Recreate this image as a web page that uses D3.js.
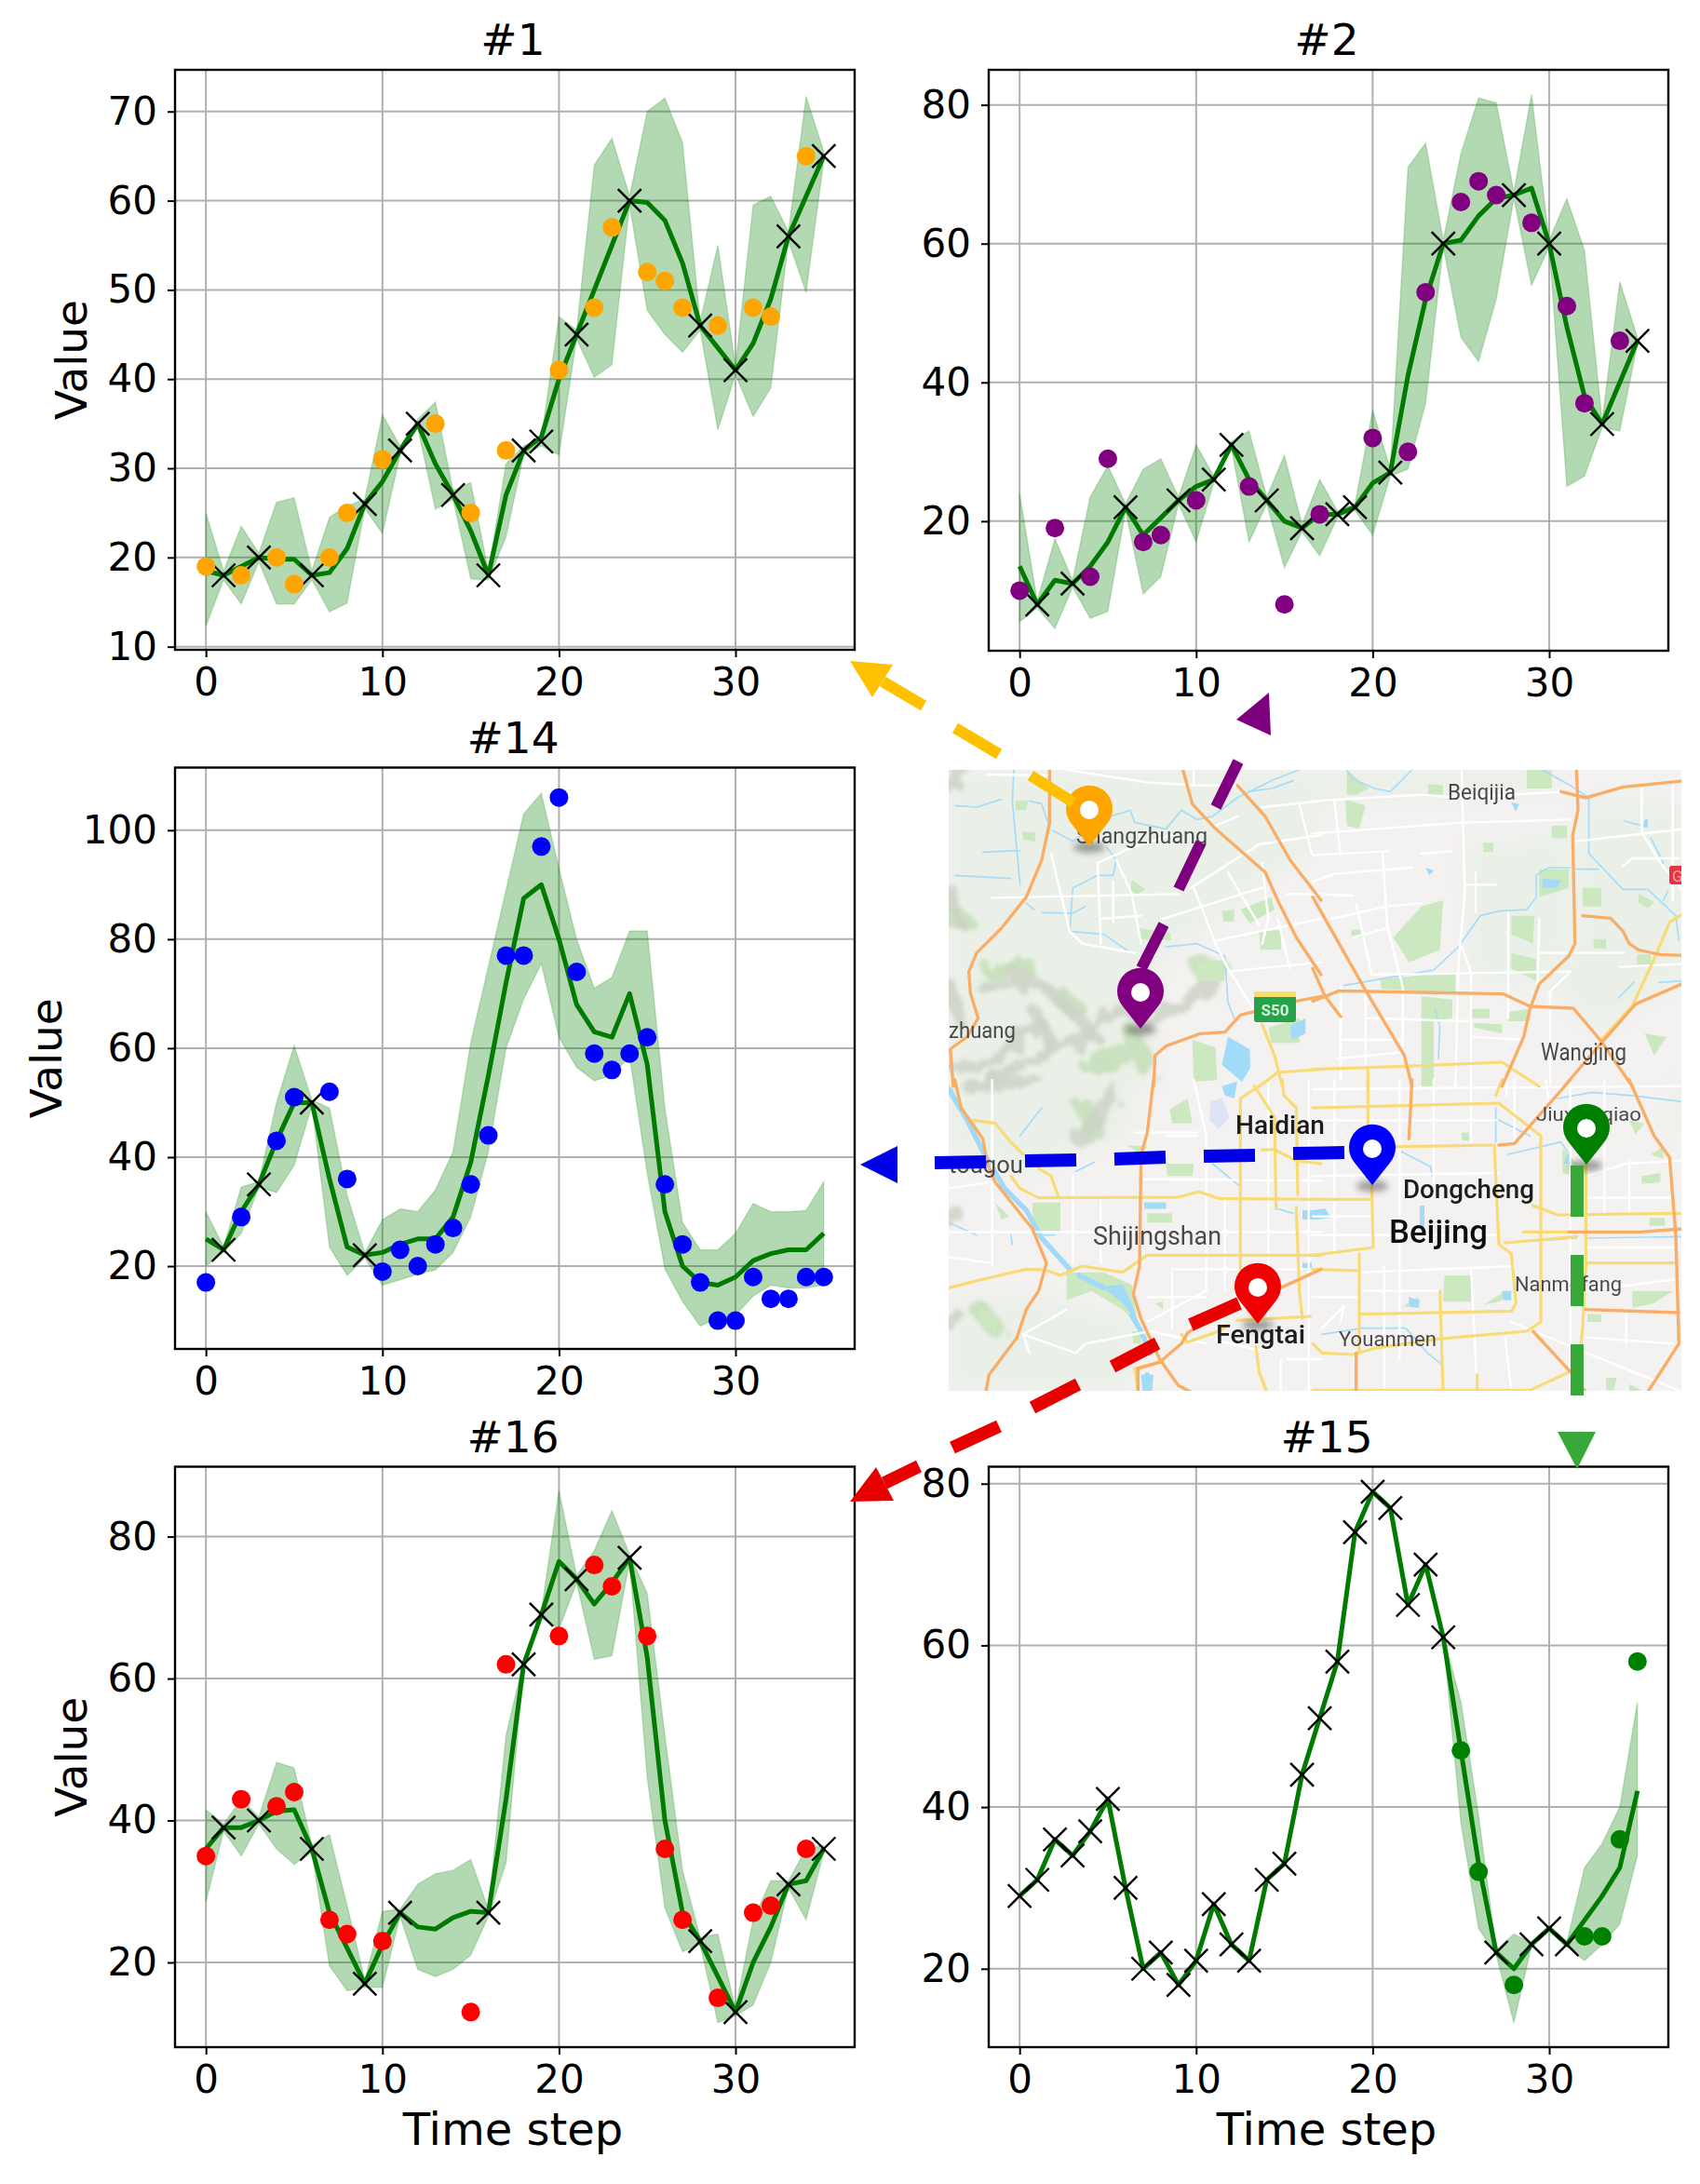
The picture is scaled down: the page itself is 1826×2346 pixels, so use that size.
<!DOCTYPE html>
<html><head><meta charset="utf-8">
<script src="https://cdnjs.cloudflare.com/ajax/libs/d3/7.8.5/d3.min.js"></script>
<style>html,body{margin:0;padding:0;background:#fff}svg{display:block}</style></head>
<body><svg id="c" width="1826" height="2346"></svg>
<script>
const tickX = [0,10,20,30];
// ---- #1
const s1Mean=[18.5,18,19,20,19.8,19.8,18,18.3,21,26,28.5,32,35,30.5,27,23,18,27,32,33.5,40,45,50,55,60,59.8,57.8,53,46,43.5,41,44,49,56,60.5,65];
const s1Upper=[25,18.5,23.5,20.5,26.2,26.7,18.5,24.5,25.8,26.5,36,32.5,35.5,37.4,27.5,28.4,18.5,30.5,32.5,33.5,47,45.5,64,67,60.5,70,71.5,66.5,46.5,55,41.5,59.5,60.5,56.5,71.7,65.5];
const s1Lower=[12.3,17.5,14.8,19.5,14.8,14.8,17.5,13.9,14.9,25.5,22.7,31.5,34.5,25.4,26.5,17.6,17.5,22.3,31.5,32.5,31.5,44.5,40.2,41.6,59.5,47.7,45,43,45.5,34.3,40.5,35.8,39,55.5,49.7,64.5];
const s1CrossX=[1,3,6,9,11,12,14,16,18,19,21,24,28,30,33,35];
const s1CrossY=[18,20,18,26,32,35,27,18,32,33,45,60,46,41,56,65];
const s1DotX=[0,2,4,5,7,8,10,13,15,17,20,22,23,25,26,27,29,31,32,34];
const s1DotY=[19,18,20,17,20,25,31,35,25,32,41,48,57,52,51,48,46,48,47,65];
// ---- #2
const s2Mean=[13.5,8,11.5,11,13.5,17,22,18,20.5,23,25,26,31,26,23,20,19,21,21,22,25.5,27,41,52,60,60.5,64,66.5,67,68,60,48,38,34,40,46];
const s2Upper=[24,8.5,17.5,11.5,23.5,28,22.5,27.5,29,23.5,31,26.5,31.5,33,23.5,29.5,19.5,26,21.5,22.5,36,27.5,71,74.5,60.5,73,81,80.3,67.5,81.5,60.5,66.5,59,34.5,54.5,46.5];
const s2Lower=[5.5,7.5,4.5,10.5,6,7,21.5,9.5,12,22.5,17,25.5,30.5,17,22.5,13.3,18.5,15,20.5,21.5,18,26.5,27.5,37,59.5,46.5,43,52,66.5,54,59.5,25,26.5,33.5,33,45.5];
const s2CrossX=[1,3,6,9,11,12,14,16,18,19,21,24,28,30,33,35];
const s2CrossY=[8,11,22,23,26,31,23,19,21,22,27,60,67,60,34,46];
const s2DotX=[0,2,4,5,7,8,10,13,15,17,20,22,23,25,26,27,29,31,32,34];
const s2DotY=[10,19,12,29,17,18,23,25,8,21,32,30,53,66,69,67,63,51,37,46];
// ---- #14
const s14Mean=[25,23,30,35,43,50,50,36,23.5,22,22.5,24,25,25,29,39,55,72,87.5,90,80,68,63,62,70,57,30,20,17,16.5,18,21,22.3,23,23,26];
const s14Upper=[30,23.5,34.5,35.5,50,60.5,50.5,49,33,22.5,28.5,30.5,30,34,41,61,75,89,103,106.8,93,80,71,73,81.5,81.5,49,28,23,23,26,31.5,30,30,30.2,35.5];
const s14Lower=[20,22.5,26,34.5,33.5,38.5,49.5,23.5,18.3,21.5,16.5,17.5,18.5,19.3,22.5,29,41,60,69,75.5,62,56.5,54,55,58.5,37,19.5,13.5,9,10.5,11,14.5,16.5,16,16,16.5];
const s14CrossX=[1,3,6,9];
const s14CrossY=[23,35,50,22];
const s14DotX=[0,2,4,5,7,8,10,11,12,13,14,15,16,17,18,19,20,21,22,23,24,25,26,27,28,29,30,31,32,33,34,35];
const s14DotY=[17,29,43,51,52,36,19,23,20,24,27,35,44,77,77,97,106,74,59,56,59,62,35,24,17,10,10,18,14,14,18,18];
// ---- #16
const s16Mean=[36,39,39,40,41.3,41.5,36,27,22,17,22.5,27,25,24.7,26.3,27.2,27,43,62,69,76.5,74,70.5,73.5,77,63,40,27,23,18,13,20,25,31,31.5,36];
const s16Upper=[41.5,39.5,43,40.5,48.2,47.4,36.5,38,28,17.5,27.2,27.5,31,32.5,33,34.5,27.5,52,62.5,69.5,86.5,74.5,78,83.7,77.5,72,52,33,23.5,24,13.5,26,31.5,31.5,36,36.5];
const s16Lower=[28.5,38.5,35,39.5,36,33.8,35.5,19.5,16,16.5,16.5,26.5,19,18,19,21,26.5,34,61.5,68.5,67,73.5,62.7,63.2,76.5,46,27.7,21.5,22.5,11.5,12.5,14,20,30.5,26,35.5];
const s16CrossX=[1,3,6,9,11,16,18,19,21,24,28,30,33,35];
const s16CrossY=[39,40,36,17,27,27,62,69,74,77,23,13,31,36];
const s16DotX=[0,2,4,5,7,8,10,15,17,20,22,23,25,26,27,29,31,32,34];
const s16DotY=[35,43,42,44,26,24,23,13,62,66,76,73,66,36,26,15,27,28,36];
// ---- #15
const s15Mean=[29,31,36,34,37,41,30,20,22,18,21,28,23,21,31,33,44,51,58,74,79,77,65,70,61,47,33,22,20,23,25,23,26,29,32.5,42];
const s15Upper=[29.2,31.2,36.2,34.2,37.2,41.2,30.2,20.2,22.2,18.2,21.2,28.2,23.2,21.2,31.2,33.2,44.2,51.2,58.2,74.2,79.2,77.2,65.2,70.2,61.3,53,39,22.3,24.3,23.2,25.2,23.3,32.5,35.5,40,53];
const s15Lower=[28.8,30.8,35.8,33.8,36.8,40.8,29.8,19.8,21.8,17.8,20.8,27.8,22.8,20.8,30.8,32.8,43.8,50.8,57.8,73.8,78.8,76.8,64.8,69.8,60.7,38,25,21.7,13.3,22.8,24.8,22.7,21,23,25.5,34];
const s15CrossX=[0,1,2,3,4,5,6,7,8,9,10,11,12,13,14,15,16,17,18,19,20,21,22,23,24,27,29,30,31];
const s15CrossY=[29,31,36,34,37,41,30,20,22,18,21,28,23,21,31,33,44,51,58,74,79,77,65,70,61,22,23,25,23];
const s15DotX=[25,26,28,32,33,34,35];
const s15DotY=[47,32,18,24,24,36,58];

const titles=["#1","#2","#14","#16","#15"];
const dotColors=["#ffa500","#800080","#0000ff","#ff0000","#008000"];
const yTicks=[[10,20,30,40,50,60,70],[20,40,60,80],[20,40,60,80,100],[20,40,60,80],[20,40,60,80]];
const yDomains=[[9.65,74.67],[1.33,85.05],[4.8,111.5],[8.06,89.85],[10.3,82.1]];
const frames=[[188,918,75,698],[1062,1792,75,699],[188,918,824.5,1449],[188,918,1575.5,2199],[1062,1792,1575.5,2199]];
const means=[s1Mean,s2Mean,s14Mean,s16Mean,s15Mean];
const uppers=[s1Upper,s2Upper,s14Upper,s16Upper,s15Upper];
const lowers=[s1Lower,s2Lower,s14Lower,s16Lower,s15Lower];
const crossXs=[s1CrossX,s2CrossX,s14CrossX,s16CrossX,s15CrossX];
const crossYs=[s1CrossY,s2CrossY,s14CrossY,s16CrossY,s15CrossY];
const dotXs=[s1DotX,s2DotX,s14DotX,s16DotX,s15DotX];
const dotYs=[s1DotY,s2DotY,s14DotY,s16DotY,s15DotY];
const yLabelOn=[true,false,true,true,false];
const yLabelX=[93,0,66,93,0];
const xLabelOn=[false,false,false,true,true];

const svg=d3.select("#c");
const FONT="'DejaVu Sans',sans-serif";
const defs=svg.append("defs");
defs.append("filter").attr("id","soft").append("feGaussianBlur").attr("stdDeviation",0.65);
const hf=defs.append("filter").attr("id","hill").attr("x","-20%").attr("y","-20%").attr("width","140%").attr("height","140%");
hf.append("feTurbulence").attr("type","fractalNoise").attr("baseFrequency",0.05).attr("numOctaves",3).attr("seed",4).attr("result","n");
hf.append("feDisplacementMap").attr("in","SourceGraphic").attr("in2","n").attr("scale",22).attr("result","d");
hf.append("feGaussianBlur").attr("in","d").attr("stdDeviation",2.2);
defs.append("filter").attr("id","big").attr("x","-20%").attr("y","-20%").attr("width","140%").attr("height","140%").append("feGaussianBlur").attr("stdDeviation",10);
defs.append("filter").attr("id","shadow").attr("x","-50%").attr("y","-100%").attr("width","200%").attr("height","300%").append("feGaussianBlur").attr("stdDeviation",3.5);
defs.append("clipPath").attr("id","mapclip").append("rect").attr("x",1019).attr("y",827).attr("width",787).attr("height",667);

// ------------ panels
titles.forEach((t,i)=>{
  const [x0,x1,y0,y1]=frames[i];
  const gp=svg.append("g");
  const x=d3.scaleLinear().domain([-1.75,36.75]).range([x0,x1]);
  const y=d3.scaleLinear().domain(yDomains[i]).range([y1,y0]);
  gp.append("g").selectAll("line").data(tickX).join("line")
    .attr("x1",d=>x(d)).attr("x2",d=>x(d)).attr("y1",y0).attr("y2",y1).attr("stroke","#b0b0b0").attr("stroke-width",2);
  gp.append("g").selectAll("line").data(yTicks[i]).join("line")
    .attr("y1",d=>y(d)).attr("y2",d=>y(d)).attr("x1",x0).attr("x2",x1).attr("stroke","#b0b0b0").attr("stroke-width",2);
  const idx=d3.range(means[i].length);
  gp.append("path").attr("d",d3.area().x(d=>x(d)).y0(d=>y(lowers[i][d])).y1(d=>y(uppers[i][d]))(idx))
    .attr("fill","green").attr("fill-opacity",.3).attr("stroke","green").attr("stroke-opacity",.18).attr("stroke-width",1.5);
  gp.append("path").attr("d",d3.line().x(d=>x(d)).y(d=>y(means[i][d]))(idx))
    .attr("fill","none").attr("stroke","#007a00").attr("stroke-width",5).attr("stroke-linejoin","round");
  const cr=gp.append("g").attr("stroke","#000").attr("stroke-width",2.4);
  crossXs[i].forEach((cx,k)=>{
    const a=x(cx),b=y(crossYs[i][k]),r=12.5;
    cr.append("line").attr("x1",a-r).attr("x2",a+r).attr("y1",b-r).attr("y2",b+r);
    cr.append("line").attr("x1",a-r).attr("x2",a+r).attr("y1",b+r).attr("y2",b-r);
  });
  gp.append("g").selectAll("circle").data(dotXs[i]).join("circle")
    .attr("cx",d=>x(d)).attr("cy",(d,k)=>y(dotYs[i][k])).attr("r",10).attr("fill",dotColors[i]);
  gp.append("rect").attr("x",x0).attr("y",y0).attr("width",x1-x0).attr("height",y1-y0)
    .attr("fill","none").attr("stroke","#000").attr("stroke-width",2.4);
  const ax=gp.append("g").attr("transform",`translate(0,${y1})`).call(d3.axisBottom(x).tickValues(tickX).tickFormat(d3.format("d")).tickSize(8).tickPadding(11));
  const ay=gp.append("g").attr("transform",`translate(${x0},0)`).call(d3.axisLeft(y).tickValues(yTicks[i]).tickFormat(d3.format("d")).tickSize(8).tickPadding(11));
  [ax,ay].forEach(a=>{a.select(".domain").remove();
    a.selectAll("line").attr("stroke","#000").attr("stroke-width",2);
    a.selectAll("text").attr("font-family",FONT).attr("font-size",42).attr("fill","#000");});
  gp.append("text").attr("x",(x0+x1)/2-2).attr("y",y0-16).attr("text-anchor","middle")
    .attr("font-family",FONT).attr("font-size",47).attr("fill","#000").text(t);
  if(yLabelOn[i]) gp.append("text").attr("transform",`translate(${yLabelX[i]},${(y0+y1)/2}) rotate(-90)`)
    .attr("text-anchor","middle").attr("font-family",FONT).attr("font-size",47).attr("fill","#000").text("Value");
  if(xLabelOn[i]) gp.append("text").attr("x",(x0+x1)/2-2).attr("y",2304).attr("text-anchor","middle")
    .attr("font-family",FONT).attr("font-size",48).attr("fill","#000").text("Time step");
});

// ------------ map (crop quadrants: A top-left, B top-right, C bottom-left, D bottom-right; coordinates at 3x)
const Q={A:[1019,827],B:[1410,827],C:[1019,1160],D:[1410,1160]};
const P=(q,s)=>s.trim().split(/\s+/).map(p=>{const v=p.split(",").map(Number);return [Q[q][0]+v[0]/3,Q[q][1]+v[1]/3];});
const ruralAreas=[["A","0,0 1200,0 1200,230 950,420 700,600 650,760 670,1020 0,1020"],["B","480,240 830,200 830,560 730,680 620,710 500,650"],["B","860,100 1200,100 1200,680 1050,750 930,850 740,690 850,570"],["B","0,0 800,0 800,60 300,90 0,100"],["C","0,0 600,0 580,180 400,240 300,300 0,250"],["C","0,700 300,700 600,760 580,1005 0,1005"],["D","1150,0 1190,0 1190,200 1150,200"]];
const hillGray=[["A","130,1000 300,920 430,870 520,770 640,810 780,740 870,650"],["A","210,650 300,690 420,800 480,870"],["A","0,960 120,950 300,820"],["A","0,60 40,0"],["A","0,380 40,500"],["A","110,700 230,690"],["A","280,780 340,900"],["C","60,20 200,10 280,0"],["C","420,200 480,120 530,30"],["C","0,450 20,420"],["C","0,800 30,760"],["A","0,690 30,800"]];
const hillGreen=[["A","140,650 250,630"],["A","450,950 560,920"],["A","810,640 880,640"],["A","0,470 50,490"],["C","440,90 470,170"],["C","100,740 150,800"],["A","360,730 420,780"],["A","590,860 640,960"]];
const parks=[["A","1000,520 1072,515 1070,580 1005,580"],["A","880,455 920,450 920,488 885,488"],["A","940,450 1040,410 1050,450 970,495"],["A","590,355 635,385 610,400 585,395"],["A","800,620 890,612 888,680 800,682"],["A","785,870 860,895 865,1000 790,1005"],["A","215,100 255,100 250,130 215,130"],["A","235,200 280,200 278,232 240,225"],["A","615,510 715,525 715,550 620,545"],["A","1030,830 1130,800 1130,880 1040,880"],
["B","260,540 350,440 420,420 410,580 310,620"],["B","105,95 170,115 150,190 110,180"],["B","640,470 715,470 710,560 640,530"],["B","640,590 720,610 720,680 640,640"],["B","730,320 825,320 825,380 730,410"],["B","870,380 930,380 930,440 870,440"],["B","770,180 820,180 820,220 770,220"],["B","550,235 582,235 582,265 550,265"],["B","350,730 450,740 450,800 390,810 390,1020 350,1020"],["B","220,675 460,650 460,722 220,705"],["B","510,770 570,770 570,800 510,800"],["B","1045,595 1090,595 1090,628 1045,628"],["B","1050,400 1100,425 1080,445 1050,430"],["B","905,545 945,545 945,575 905,575"],["B","372,45 420,50 420,80 372,78"],["B","690,0 770,0 770,60 690,60"],["B","110,0 180,60 140,80 110,80"],["B","125,515 158,515 158,540 125,540"],["B","1070,850 1140,860 1100,920"],["B","630,780 700,770 700,810 630,810"],["B","520,815 610,820 610,850 520,830"],
["C","270,395 360,395 360,490 270,490"],["C","380,620 500,620 590,660 610,790 560,740 460,680 380,710"],["C","150,395 195,440 170,450"],["C","95,730 160,770 155,820 100,780"],["C","712,95 770,60 785,140 720,140"],["C","640,430 720,430 720,460 640,460"],["C","700,270 790,270 785,310 705,310"],["C","590,810 620,810 620,850 595,850"],["C","665,720 690,715 690,740"],["C","575,210 640,215 620,240"],["C","630,395 700,395 700,415 630,415"],
["D","425,630 515,630 510,715 420,715"],["D","550,725 620,680 640,695 600,715"],["D","1060,310 1120,300 1120,330 1060,335"],["D","1030,680 1160,680 1100,720 1030,735"],["D","480,170 505,170 505,195 480,195"],["D","805,220 850,270 840,310 805,300"],["D","1020,130 1070,140 1040,175"],["D","885,755 930,755 930,780 885,780"],["D","945,960 980,960 970,1000 945,1000"],["D","1020,980 1060,1000 1020,1005"],["D","1090,240 1130,215 1130,255"],["D","290,730 340,700 345,735"],["D","1085,445 1135,445 1135,470 1085,470"]];
const lakes=[["A","900,860 970,900 972,960 945,1005 880,950"],["A","1100,825 1150,800 1150,850 1105,870"],["B","740,350 800,355 790,380 740,380"],["D","0,420 40,415 60,445 0,450"],["D","345,405 360,405 360,470 345,475"],["D","610,680 640,680 640,710 615,710"],["D","808,270 830,220 830,270"],["D","310,700 345,710 340,735 310,730"],["C","630,395 700,395 700,415 630,415"],["C","1140,420 1200,420 1200,450 1140,450"],["C","495,665 560,660 590,720 610,780 560,720"],["C","620,950 660,950 655,1005 625,1005"],["C","1140,590 1170,590 1170,615 1140,615"],["C","880,20 930,5 920,60 890,50"],["B","640,105 665,110 655,135"],["B","365,315 390,325 375,340"],["B","1070,160 1080,160 1080,185 1065,185"]];
const paleLakes=[["C","845,70 880,60 905,120 870,160 840,130"]];
const rivers=[["A","210,0 205,100 230,370"],["A","260,100 300,110 320,170"],["A","335,195 400,230 520,150 585,130 600,170 700,190 750,130 800,160 850,150 930,90 1050,30 1130,0"],["A","400,380 480,340 530,340 540,290 510,250"],["A","400,380 390,520 500,530 580,585"],["A","300,460 400,462 440,440"],["A","700,570 800,560 890,600 900,750 920,800"],["A","250,430 275,450"],["A","20,340 200,350"],["A","20,115 90,120 170,95"],["A","110,265 230,260"],["A","965,70 1040,60 1110,35"],
["B","110,0 130,30 200,60 250,70 320,0"],["B","740,0 830,50 890,90 890,270 1000,385 1080,385 1170,470 1180,550"],["B","850,320 920,320"],["B","100,695 270,665 390,645 470,570 540,470 600,455 690,450 720,410 720,340 760,315 830,315"],["B","985,735 1035,685"],["B","1115,685 1190,680"],["B","1090,220 1130,300"],["B","1005,165 1060,180"],["B","1130,420 1145,390"],["B","395,770 410,830 405,930"],
["C","10,30 60,130"],["C","280,500 340,500"],["C","0,460 90,500"],["C","200,500 205,530"],["C","410,295 470,265"],["C","850,270 935,340"],["C","1060,415 1110,430"],["C","230,180 300,90"],
["D","285,230 380,280 385,310"],["D","630,240 800,200 820,230"],["D","590,90 590,200"],["D","620,525 850,510"],["D","160,800 300,800 370,880 420,920"],["D","30,820 160,800"],["D","880,510 1190,505"],["D","700,180 600,130"],["D","790,60 900,40 1020,50 1190,70"]];
const bigRivers=[["C","0,30 60,130 110,230 180,350 250,420 300,510 390,610"],["C","420,630 500,670"],["C","590,760 620,810 650,880"],["C","640,950 640,1005"]];
const whiteRoads=[["A","120,15 320,18"],["A","380,0 640,40 800,50 930,50"],["A","140,412 740,400"],["A","690,480 1010,380"],["A","780,380 1000,240 1200,210"],["A","480,300 590,250 720,210"],["A","480,300 490,560"],["A","330,270 390,520 430,560 600,590"],["A","540,290 590,400 620,560"],["A","790,380 860,560 900,640 1000,800"],["A","900,650 1200,620"],["A","860,550 1200,480"],["A","1010,120 1200,100"],["A","1130,110 1170,270"],["A","860,180 930,150"],["A","490,480 620,470"],["A","530,360 530,490"],["A","1010,300 1030,480 1010,560"],["A","900,330 1000,500"],["A","1090,400 1200,400"],["A","1060,480 1100,640"],["A","790,0 790,50"],
["B","0,100 350,80 480,90 800,70"],["B","0,205 480,170 830,160"],["B","850,230 1200,190"],["B","480,0 490,400 470,620 460,1020"],["B","0,275 245,262"],["B","0,360 70,335 320,315"],["B","225,265 240,500 290,700 290,900"],["B","60,480 240,440 350,430"],["B","480,570 510,650 510,1020"],["B","190,660 830,650"],["B","630,460 630,800"],["B","730,480 725,690"],["B","130,540 240,510"],["B","140,430 190,660"],["B","1060,60 1060,200 1120,300 1200,400"],["B","525,330 525,460"],["B","490,370 590,370"],["B","170,800 500,810"],["B","90,870 290,870"],["B","80,930 290,910"],["B","90,700 90,1000"],["B","170,720 170,950"],["B","510,860 690,870"],["B","760,720 830,650"],["B","765,720 765,1020"],["B","1160,50 1160,420"],["B","1000,310 1030,285 1180,285"],["B","730,590 1000,590"],["B","0,400 130,405"],["B","70,100 90,280"],["B","990,635 1190,625"],["B","350,270 450,262"],
["C","0,490 300,490 620,490 1200,490"],["C","640,780 830,680"],["C","240,820 410,880 440,850 650,810 830,850"],["C","830,180 830,680"],["C","890,390 890,680"],["C","1030,0 1030,800"],["C","700,180 800,180"],["C","790,0 830,180"],["C","620,320 1200,325"],["C","720,610 1200,610"],["C","720,620 720,800"],["C","640,700 830,700"],["C","1000,870 860,840"],["C","140,0 140,600"],["C","400,310 400,590"],["C","490,390 490,590"],["C","600,170 800,170"],["C","1160,0 1160,1005"],["C","1090,900 1200,900"],["C","0,350 130,330"],["C","0,570 130,590"],["C","380,740 240,820 260,880"],["C","1070,900 1070,1005"],
["D","0,30 1190,20"],["D","0,130 590,130"],["D","0,310 600,300"],["D","0,440 190,440"],["D","0,500 600,500"],["D","160,620 650,600"],["D","280,0 280,900"],["D","390,0 390,330"],["D","510,0 510,200"],["D","70,0 70,560"],["D","510,600 530,1000"],["D","650,0 650,200"],["D","880,310 1010,270 1190,260"],["D","1020,260 1020,430"],["D","940,0 940,430"],["D","880,380 1160,380"],["D","880,540 1160,540"],["D","880,680 1190,640"],["D","880,830 1160,850"],["D","1010,750 1010,850"],["D","640,780 1190,1005"],["D","160,680 410,680"],["D","230,600 230,1000"],["D","625,0 625,50"],["D","0,700 150,700"],["D","830,0 830,1000"],["D","750,0 760,60"],["D","30,800 100,730 90,780"],["D","620,830 640,1000"]];
const yellowRoads=[["B","1200,460 1150,490 1100,610 1030,760 930,870"],["B","0,965 300,955 610,942 730,1020"],["B","178,960 178,1020"],
["A","1010,820 1050,920 1075,1020"],["A","1000,1020 1060,975 1200,965"],
["C","80,130 150,140 200,200 240,240"],["C","290,285 330,310 355,380"],["C","200,310 230,350 290,380 740,378 805,360 870,382 1200,385"],["C","0,670 100,645 250,610 310,612 360,630 430,600 560,620 640,565 1200,565"],["C","940,60 940,640"],["C","940,60 1030,0"],["C","985,20 1050,120 1055,415"],["C","1075,0 1080,50 1120,90 1125,370"],["C","1120,410 1130,680 1140,770"],["C","930,775 1165,762"],["C","1010,225 1050,225 1120,260 1200,270"],["C","990,860 1000,940 1025,1005"],["C","750,820 770,845 870,810 900,790"],["C","600,930 690,905"],["C","600,930 610,1005"],
["D","0,90 600,75 735,180 735,780 690,810 400,835 200,865"],["D","178,0 178,150"],["D","270,215 585,210 600,530 640,560 655,720 640,745 150,755"],["D","190,340 195,540 0,565"],["D","150,560 150,880"],["D","0,610 150,615"],["D","0,850 30,880 130,885 200,865"],["D","410,680 420,1005"],["D","0,385 190,385"],["D","880,260 880,600 870,800 860,890"],["D","710,405 790,435 1190,430"],["D","620,525 850,505"],["D","680,490 830,490"],["D","880,590 1170,590"],["D","530,950 530,1000"],["D","0,1000 700,1000 830,940"],["D","590,50 610,0"]];
const orangeRoads=[["A","325,0 325,170 300,290 250,410 170,510 90,590 65,650 70,720 95,800 60,860 5,900 15,1020"],["A","755,0 785,110 860,190 1020,330 1060,420 1120,540 1200,660"],["A","930,50 1020,150 1100,290 1200,420"],["A","660,1020 665,920 700,890 810,850 890,845 940,790 1000,775"],["A","1120,745 1200,730"],
["B","850,0 855,130 838,210 845,560 825,600 730,690 700,770 680,860 610,1020"],["B","800,70 880,90 1000,55 1200,35"],["B","870,470 960,478 1000,520 1020,560 1050,580 1120,595 1200,598"],["B","0,410 170,710 295,920 320,1020"],["B","0,745 85,712 615,722 700,762 840,768 930,875 1030,1020"],["B","0,640 40,730 90,795"],["B","1200,685 1040,755 930,880 810,1020"],
["C","20,0 40,90 110,190 125,270 150,330 270,480 315,590 290,680 250,740 220,830 130,950 120,1005"],["C","660,0 640,170 620,240 615,600 595,690 620,770 680,900 740,985 780,1005"],["C","610,1005 610,930 680,910 750,850 770,815 930,715"],["C","1070,670 1200,610"],
["D","320,0 310,190"],["D","600,210 650,205 830,0"],["D","825,490 1060,490 1190,480"],["D","880,740 1180,750"],["D","710,810 830,940 880,1005"],["D","1020,0 1100,180 1150,250 1170,500 1180,850 1080,1005"],["D","140,880 140,1005"]];
const mapLabelText=["Beiqijia","Shangzhuang","zhuang","Wangjing","Jiuxianqiao","tougou","Shijingshan","Haidian","Dongcheng","Beijing","Nanmofang","Youanmen","Fengtai"];
const mapLabelX=[1555,1156,1019,1655,1650,1019,1174,1327,1507,1492,1627,1438,1306];
const mapLabelY=[859,906,1115,1139,1204,1260,1337,1218,1287,1335,1387,1446,1443];
const mapLabelW=[73,141,72,92,113,80,138,96,141,106,115,105,96];
const mapLabelS=[24,24,24,25,21,25,27,28,28,35,22,22,28];
const mapLabelW8=[400,400,400,400,400,400,400,500,500,500,400,400,500];
const mapLabelC=["#4a4a4a","#4a4a4a","#4a4a4a","#4a4a4a","#4a4a4a","#4a4a4a","#4a4a4a","#1c1c1c","#1c1c1c","#111","#4a4a4a","#4a4a4a","#1c1c1c"];

const map=svg.append("g").attr("clip-path","url(#mapclip)");
const inner=map.append("g").attr("filter","url(#soft)");
inner.append("rect").attr("x",1019).attr("y",827).attr("width",787).attr("height",667).attr("fill","#f4f1f1");
const L=d3.line();
const polys=(arr,fill,parent=inner,op=1,f=null)=>{const g=parent.append("g");if(f)g.attr("filter",f);
  arr.forEach(([q,s])=>g.append("path").attr("d",L(P(q,s))+"Z").attr("fill",fill).attr("opacity",op));};
const lines=(arr,col,w,parent=inner,f=null,op=1)=>{const g=parent.append("g");if(f)g.attr("filter",f);
  arr.forEach(([q,s])=>g.append("path").attr("d",L(P(q,s))).attr("fill","none").attr("stroke",col).attr("stroke-width",w).attr("stroke-linejoin","round").attr("stroke-linecap","round").attr("opacity",op));};
polys(ruralAreas,"#eaf0e7",inner,1,"url(#big)");
lines(hillGreen,"#c6dfba",20,inner,"url(#hill)",.9);
lines(hillGray,"#ccd2c6",13,inner,"url(#hill)",.85);
polys(parks,"#cbe8c0");
lines(rivers,"#a6dcf8",1.7);
lines(bigRivers,"#a0daf8",5.5);
polys(lakes,"#a2dbf8");
polys(paleLakes,"#dde3f5");
lines(whiteRoads,"#ffffff",2.4);
lines(yellowRoads,"#f8db74",3.2);
lines(orangeRoads,"#f9ae68",3.4);
// S50 shield and red tag
inner.append("rect").attr("x",1347).attr("y",1065).attr("width",45).attr("height",33).attr("rx",3).attr("fill","#27a24b");
inner.append("rect").attr("x",1347).attr("y",1065).attr("width",45).attr("height",6).attr("fill","#f5e06a");
inner.append("text").attr("x",1369.5).attr("y",1091).attr("text-anchor","middle").attr("font-family","Roboto").attr("font-weight",700).attr("font-size",17).attr("fill","#d8f0d8").text("S50");
inner.append("rect").attr("x",1793).attr("y",930).attr("width",20).attr("height",20).attr("rx",3).attr("fill","#ea3340");
inner.append("text").attr("x",1796).attr("y",947).attr("font-family","Roboto").attr("font-size",17).attr("fill","#f6aab0").text("G");
mapLabelText.forEach((t,i)=>{
  inner.append("text").attr("x",mapLabelX[i]).attr("y",mapLabelY[i]).attr("font-family","Roboto").attr("font-size",mapLabelS[i])
    .attr("font-weight",mapLabelW8[i]).attr("fill",mapLabelC[i]).attr("textLength",mapLabelW[i]).attr("lengthAdjust","spacingAndGlyphs").text(t);
});
// pins
const pinX=[1170,1225,1474,1704,1351];
const pinY=[870,1066,1234,1212,1383];
const pinC=["#ffa500","#800080","#0000ff","#008000","#f00000"];
pinX.forEach((px,i)=>{
  const py=pinY[i],r=25,tip=39;
  map.append("ellipse").attr("cx",px).attr("cy",py+tip+1).attr("rx",17).attr("ry",6).attr("fill","#555").attr("opacity",.55).attr("filter","url(#shadow)");
  map.append("path").attr("d",`M${px},${py+tip} L${px-19},${py+15} A${r},${r} 0 1 1 ${px+19},${py+15} Z`).attr("fill",pinC[i]);
  map.append("circle").attr("cx",px).attr("cy",py).attr("r",10).attr("fill","#fff");
});

// ------------ dashed arrows
const dashColor=["#ffc000","#7f007f","#0000e6","#38a838","#e60000"];
const dashWidth=[12,12,14,14,14];
const dashes=[
 [[[948,732],[992,758]],[[1026,782],[1073,810]],[[1107,833],[1153,862]]],
 [[[1330,818],[1306,867]],[[1290,905],[1266,955]],[[1250,993],[1226,1040]]],
 [[[1004,1249],[1059,1248]],[[1101,1247],[1156,1246]],[[1197,1245],[1252,1243]],[[1293,1242],[1348,1241]],[[1389,1239],[1444,1238]]],
 [[[1694,1252],[1694,1307]],[[1694,1348],[1694,1403]],[[1694,1444],[1694,1499]]],
 [[[950,1593],[987,1575]],[[1023,1555],[1073,1532]],[[1109,1512],[1158,1487]],[[1195,1468],[1243,1443]],[[1279,1423],[1331,1400]]]
];
const heads=[
 [[913,710],[959,714],[937,749]],
 [[1328,773],[1363,744],[1365,790]],
 [[924,1251],[964,1231],[964,1271]],
 [[1673,1538],[1714,1538],[1694,1578]],
 [[913,1613],[941,1576],[960,1612]]
];
dashes.forEach((ds,i)=>{
  const g=svg.append("g");
  ds.forEach(d=>g.append("path").attr("d",d3.line()(d)).attr("stroke",dashColor[i]).attr("stroke-width",dashWidth[i]).attr("fill","none"));
  g.append("path").attr("d",d3.line()(heads[i])+"Z").attr("fill",dashColor[i]);
});
</script></body></html>
